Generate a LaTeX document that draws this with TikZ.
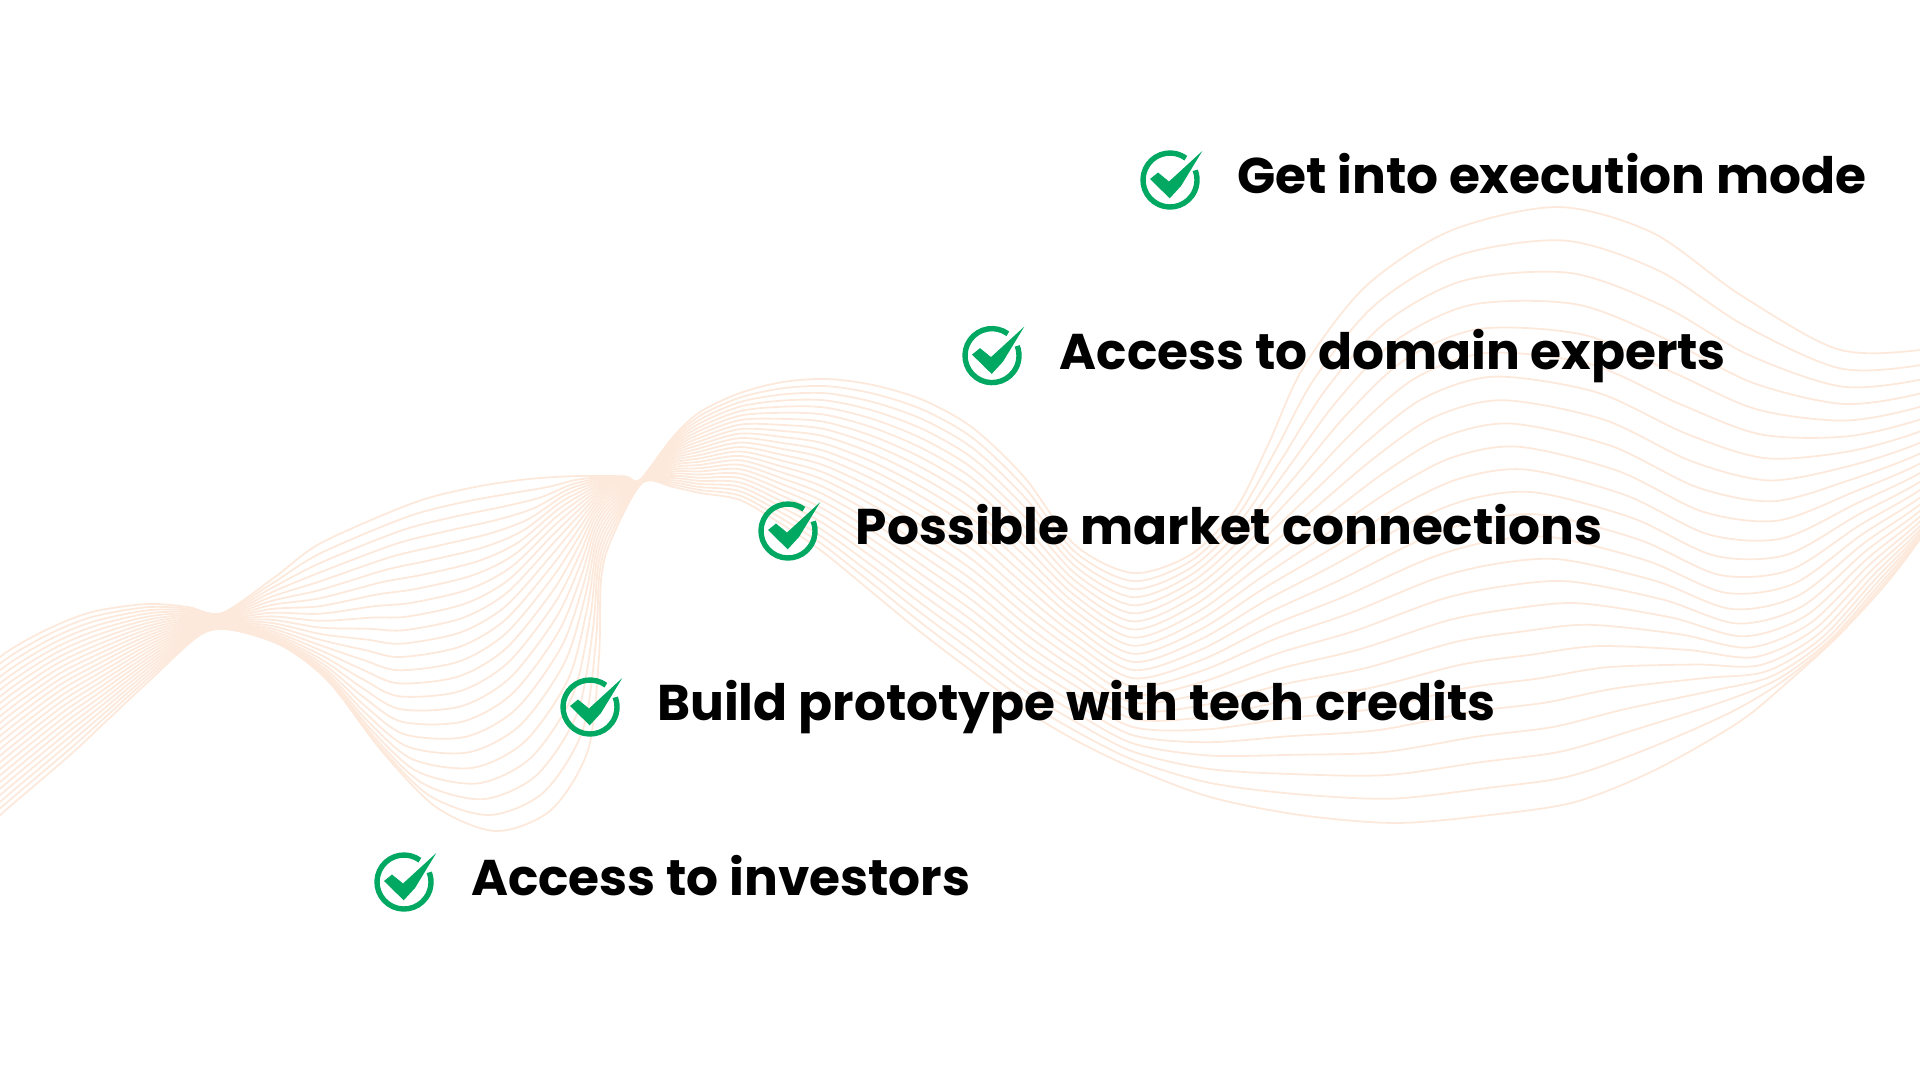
\documentclass[tikz,border=0pt]{standalone}
\usepackage{fontspec}
\setmainfont{Poppins}

\definecolor{tickgreen}{RGB}{0,168,98}
\definecolor{waveorange}{RGB}{252,233,219}

\tikzset{
  waveline/.style={draw=waveorange, line width=1.8pt},
  itemtext/.style={anchor=base west, inner sep=0pt, font=\fontsize{50.2}{60}\selectfont\bfseries},
  tickmark/.pic={
    \draw [tickgreen, line width=5.4pt] (-54:27) arc (-54:-381:27);
    \fill [tickgreen] (-20,-1) -- (-12,-7.5) -- (-1,1.5) -- (32.3,-29) -- (11,6) -- (-0.3,18.3) -- cycle;
  }
}

% top edge / middle line / bottom edge of the ribbon, in pixels
\def\ribbon{-40/700/-40/775/-40/851, 0/657/0/736/0/815, 46/630/58/692/70/755, 92/612/96/670/100/727,
147/604/148/642/150/680, 188/607/193/624/200/635, 222/613/226/622/232/630, 275/577/272/626/285/647,
321/543/321/640/330/683, 413/503/365/650/381/750, 470/488/400/657/436/807, 520/480/459/647/496/831,
555/477/505/620/551/810, 580/476/551/567/588/750, 597/476/578/530/599/657, 612/476/595/505/601/580,
628/477/612/490/611/540, 640/480/640/481/642/483, 673/437/673/461/673/487, 700/412/700/455/700/493,
740/393/740/447/740/500, 783/382/783/455/783/525, 827/379/823/465/823/552, 873/385/873/488/873/593,
923/400/923/517/923/634, 973/428/973/550/973/672, 1025/478/1025/595/1025/710, 1075/545/1075/635/1075/740,
1133/573/1133/670/1133/768, 1190/555/1200/650/1210/797, 1235/510/1270/612/1300/815, 1268/445/1340/580/1396/823,
1303/368/1420/540/1490/815, 1365/287/1480/520/1575/802, 1450/231/1544/515/1655/770, 1558/207/1640/540/1739/722,
1653/233/1720/575/1790/680, 1739/294/1790/570/1837/637, 1837/349/1860/525/1885/585, 1920/350/1920/490/1920/539,
1970/335/1970/450/1965/470}

\begin{document}
\begin{tikzpicture}[x=1pt, y=-1pt]

\useasboundingbox (0,0) rectangle (1920,1080);

\begin{scope}
\clip (0,0) rectangle (1920,1080);
\foreach \i in {0,...,24} {
  \pgfmathsetmacro{\wa}{(1-\i/24)*(1-2*\i/24)}
  \pgfmathsetmacro{\wm}{4*\i/24*(1-\i/24)}
  \pgfmathsetmacro{\wb}{\i/24*(2*\i/24-1)}
  \gdef\wavepts{}
  \foreach \ax/\ay/\mx/\my/\bx/\by in \ribbon {
    \pgfmathsetmacro{\px}{\wa*\ax+\wm*\mx+\wb*\bx}
    \pgfmathsetmacro{\py}{\wa*\ay+\wm*\my+\wb*\by}
    \xdef\wavepts{\wavepts (\px,\py)}
  }
  \edef\drawwave{\noexpand\draw [waveline] plot [smooth] coordinates {\wavepts};}
  \drawwave
}
\end{scope}

\pic (chkA) at (1170,180) {tickmark};
\pic (chkB) at (992,355.6) {tickmark};
\pic (chkC) at (788,531) {tickmark};
\pic (chkD) at (590,707) {tickmark};
\pic (chkE) at (404,882) {tickmark};

\node [itemtext] (txtA) at (1237,193) {Get into execution mode};
\node [itemtext] (txtB) at (1059.5,369.2) {Access to domain experts};
\node [itemtext] (txtC) at (855.5,544.6) {Possible market connections};
\node [itemtext] (txtD) at (657,720.6) {Build prototype with tech credits};
\node [itemtext] (txtE) at (471,895.8) {Access to investors};

\end{tikzpicture}
\end{document}
